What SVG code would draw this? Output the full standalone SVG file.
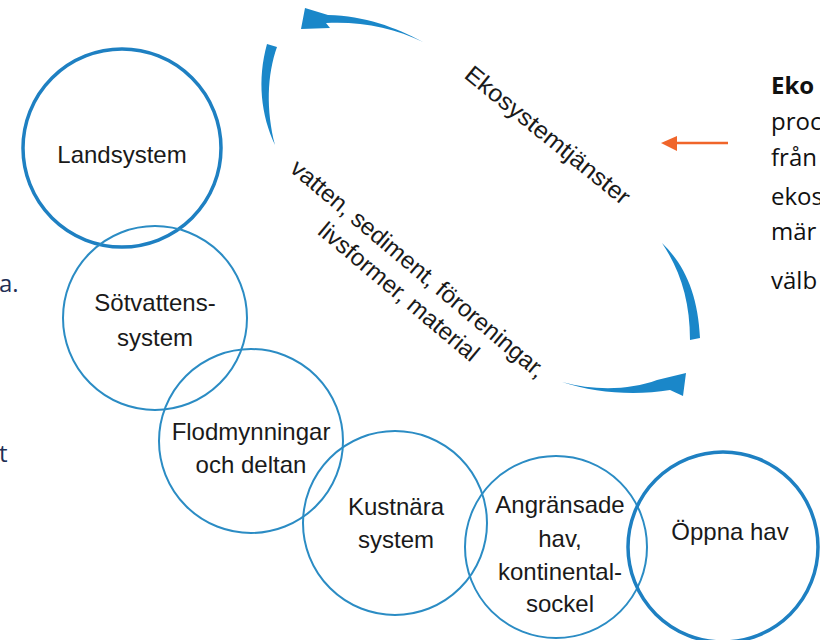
<svg xmlns="http://www.w3.org/2000/svg" width="820" height="640" viewBox="0 0 820 640">
<style>
.c{fill:none;stroke:#2b8cc4;stroke-width:2}
.ct{fill:none;stroke:#1e80c2;stroke-width:3.5}
.lbl{font-family:"Liberation Sans",Arial,sans-serif;font-size:24px;fill:#1a1a1a;text-anchor:middle}
.dg{font-family:"Liberation Sans",Arial,sans-serif;font-size:24px;fill:#1a1a1a}
.arr{fill:#1a87c9}
.side{font-family:"Open Sans","Liberation Sans",sans-serif;font-size:24px}
</style>
<rect width="820" height="640" fill="#ffffff"/>
<g id="landsystem"><circle class="ct" cx="122" cy="148" r="99"/><text class="lbl" x="122" y="163">Landsystem</text></g>
<g id="sotvatten"><circle class="c" cx="155" cy="318" r="92"/><text class="lbl" x="155" y="311">Sötvattens-</text><text class="lbl" x="155" y="346">system</text></g>
<g id="flodmynningar"><circle class="c" cx="251" cy="441" r="92"/><text class="lbl" x="251" y="440">Flodmynningar</text><text class="lbl" x="251" y="473">och deltan</text></g>
<g id="kustnara"><circle class="c" cx="395" cy="523" r="92"/><text class="lbl" x="396" y="515">Kustnära</text><text class="lbl" x="396" y="548">system</text></g>
<g id="angransade"><circle class="c" cx="556" cy="547" r="91"/><text class="lbl" x="560" y="513">Angränsade</text><text class="lbl" x="560" y="547">hav,</text><text class="lbl" x="560" y="580">kontinental-</text><text class="lbl" x="560" y="612">sockel</text></g>
<g id="oppnahav"><circle class="ct" cx="723" cy="547" r="95"/><text class="lbl" x="730" y="540">Öppna hav</text></g>
<g id="connectors">
<path class="arr" d="M423,42 C395,27 365,16 328,15 L305,8 L301,29 L330,28 L326,23 C360,21 395,28 423,42 Z"/>
<path class="arr" d="M267,44 L277,47 C267,75 266,110 275,145 C261,115 257,80 267,44 Z"/>
<path class="arr" d="M662,243 C685,265 698,295 700,338 L690,340 C690,300 680,270 662,243 Z"/>
<path class="arr" d="M562,382 C595,393 635,396 670,390 L683,396 L686,373 L657,380 C630,390 595,391 562,382 Z"/>
<line x1="728" y1="143" x2="672" y2="143" stroke="#f0652a" stroke-width="2.5"/>
<polygon points="661,143 677,136 677,151" fill="#f0652a"/>
</g>
<g id="labels">
<text class="dg" transform="translate(463,77) rotate(39)" textLength="205" lengthAdjust="spacingAndGlyphs">Ekosystemtjänster</text>
<g transform="translate(413,275) rotate(40)">
<text class="lbl" x="0" y="0">vatten, sediment, föroreningar,</text>
<text class="lbl" x="0" y="30">livsformer, material</text>
</g>
</g>
<g id="side-text">
<text class="side" x="-1" y="292" fill="#1f2f55">a.</text>
<text class="side" x="-1" y="462" fill="#1f2f55">t</text>
<text class="side" x="771" y="94" fill="#111" font-weight="bold">Eko</text>
<text class="side" x="771" y="130" fill="#111">proc</text>
<text class="side" x="771" y="166" fill="#111">från</text>
<text class="side" x="771" y="205" fill="#111">ekos</text>
<text class="side" x="771" y="240" fill="#111">mär</text>
<text class="side" x="771" y="289" fill="#111">välb</text>
</g>
</svg>
